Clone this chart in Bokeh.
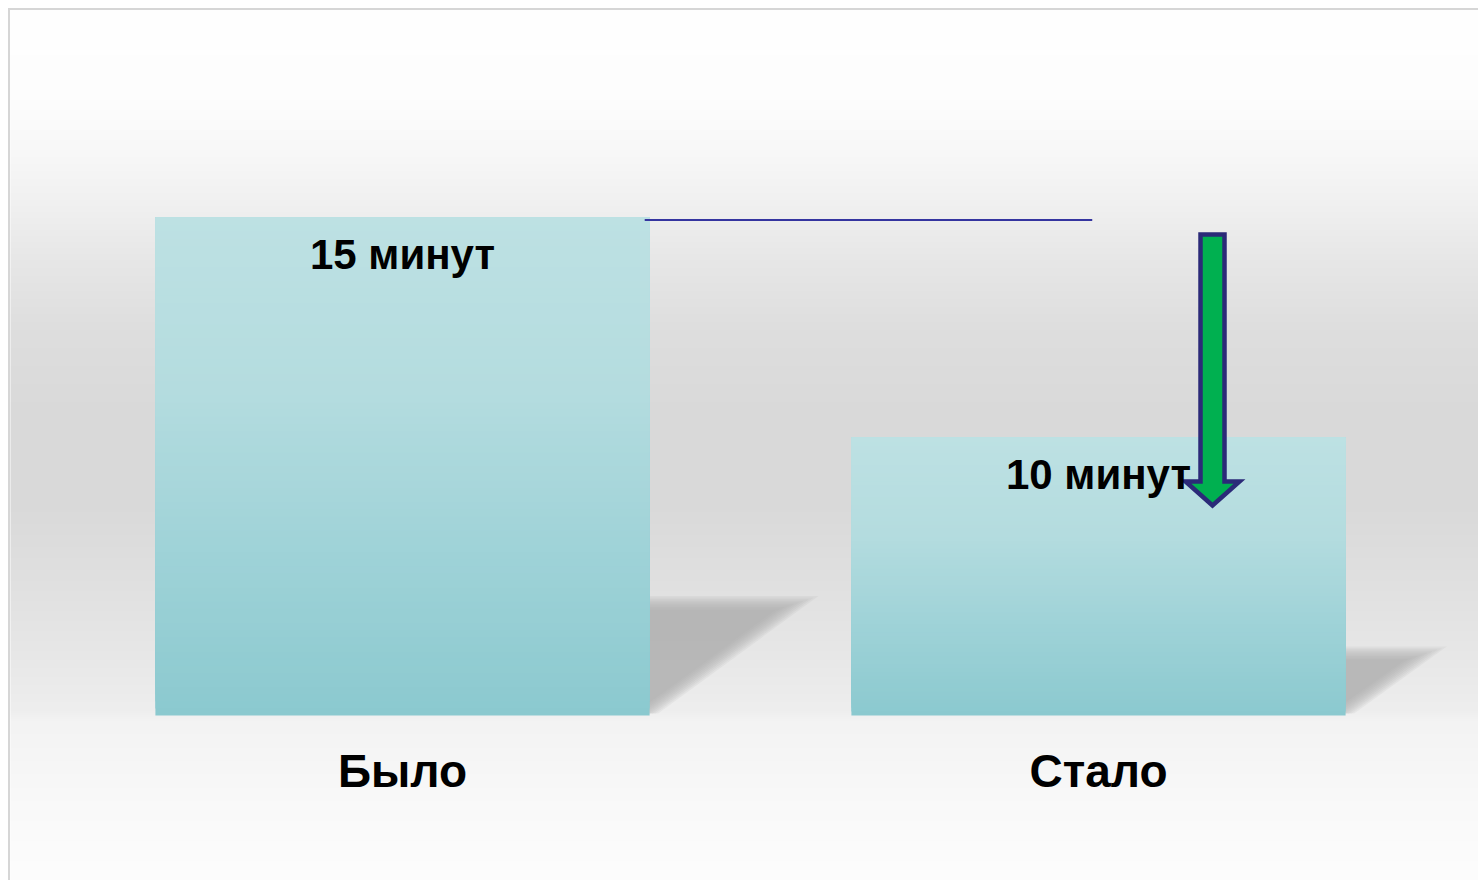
import numpy as np
from bokeh.plotting import figure
from bokeh.models import ColumnDataSource, Range1d
from bokeh.core.properties import value
from bokeh.embed import file_html
from bokeh.resources import INLINE

# ---------------- data ----------------
categories = ["Было", "Стало"]
minutes = [15, 10]
value_labels = ["15 минут", "10 минут"]
x_pos = [0, 1]

# ---------------- layout / style ----------------
BASE = 3.68          # value axis start (bars grow from here)
BAR_W = 0.71
PX_X = 696.0         # px per x unit
PX_Y = 44.0          # px per minute
W, H = 1478, 880
x_start = -402 / PX_X
x_end = x_start + W / PX_X
y_end = max(minutes) + 217 / PX_Y
y_start = y_end - H / PX_Y

FONT = value("Liberation Sans")


def hex2rgb(h):
    return [int(h[i:i + 2], 16) for i in (1, 3, 5)]


def rgb2hex(c):
    return "#%02x%02x%02x" % tuple(int(round(v)) for v in c)


def dx(px):
    return x_start + px / PX_X


def dy(py):
    return y_end - py / PX_Y


p = figure(width=W, height=H, output_backend="svg", toolbar_location=None,
           x_range=Range1d(x_start, x_end), y_range=Range1d(y_start, y_end),
           x_axis_location=None, y_axis_location=None, min_border=0)
p.border_fill_color = "#ffffff"
p.background_fill_color = "#ffffff"
p.outline_line_color = None
p.grid.visible = False

# ---------------- background gradient (panel) ----------------
P0X, P0Y = 10, 10
bg_y = [10, 100, 150, 200, 260, 330, 420, 500, 580, 650, 710, 720, 800, 880]
bg_c = ["#ffffff", "#fdfdfd", "#f8f8f8", "#f1f1f1", "#e7e7e7", "#dedede", "#d9d9d9",
        "#d9d9d9", "#e0e0e0", "#e7e7e7", "#eeeeee", "#f3f3f3", "#f9f9f9", "#fdfdfd"]
bg_rgb = np.array([hex2rgb(c) for c in bg_c], float)
ph = H - P0Y
ys_page = P0Y + (np.arange(ph)[::-1] + 0.5)
ncol = 4
img = np.zeros((ph, ncol), dtype=np.uint32)
view = img.view(dtype=np.uint8).reshape((ph, ncol, 4))
for k in range(3):
    view[:, :, k] = np.interp(ys_page, bg_y, bg_rgb[:, k])[:, None].astype(np.uint8)
view[:, :, 3] = 255
p.image_rgba(image=[img], x=dx(P0X), y=y_start, dw=x_end - dx(P0X), dh=dy(P0Y) - y_start)

# panel border (left and top)
p.quad(left=[dx(7.5), dx(7.5)], right=[dx(9.5), x_end], bottom=[y_start, dy(9.5)], top=[dy(7.5), dy(7.5)],
       fill_color="#d6d6d6", line_color=None)


# ---------------- shadows ----------------
def to_px(pts):
    return np.array([[(x - x_start) * PX_X, (y_end - y) * PX_Y] for x, y in pts])


def to_data(pts):
    return [(x / PX_X + x_start, y_end - y / PX_Y) for x, y in pts]


def offset_poly(pts, ds):
    n = len(pts)
    area = sum(pts[i, 0] * pts[(i + 1) % n, 1] - pts[(i + 1) % n, 0] * pts[i, 1] for i in range(n))
    lines = []
    for i in range(n):
        a, b = pts[i], pts[(i + 1) % n]
        e = (b - a) / np.hypot(*(b - a))
        nrm = np.array([e[1], -e[0]])
        if area < 0:
            nrm = -nrm
        lines.append((a + nrm * ds[i], e))
    out = []
    for i in range(n):
        p1, e1 = lines[i - 1]
        p2, e2 = lines[i]
        A = np.array([[e1[0], -e2[0]], [e1[1], -e2[1]]])
        t = np.linalg.solve(A, p2 - p1)[0]
        out.append(p1 + t * e1)
    return np.array(out)


sh_xs, sh_ys = [], []
for xc, v in zip(x_pos, minutes):
    h = v - BASE
    xr = xc + BAR_W / 2
    sh = 0.23 * h
    L = 0.0195 * h
    poly = [(xr - 0.03, BASE + sh), (xr + L, BASE + sh), (xr, BASE + 0.05), (xr - 0.03, BASE + 0.05)]
    pp = to_px(poly)
    for d in np.linspace(-9, 5, 10):
        op = to_data(offset_poly(pp, [d, d, 0, 0]))
        sh_xs.append([q[0] for q in op])
        sh_ys.append([q[1] for q in op])
p.patches(sh_xs, sh_ys, fill_color="#ababab", fill_alpha=0.13, line_color=None)

# ---------------- bars with vertical gradient ----------------
g_t = [0.0, 0.35, 0.65, 1.0]
g_c = np.array([hex2rgb(c) for c in ["#8bc9cf", "#a0d3d8", "#b4dcdf", "#bde1e3"]], float)
NS = 70
left, right, bottom, top, colors = [], [], [], [], []
for xc, v in zip(x_pos, minutes):
    for i in range(NS):
        t = i / NS
        y0 = BASE + (v - BASE) * t
        col = [np.interp(t + 0.5 / NS, g_t, g_c[:, k]) for k in range(3)]
        left.append(xc - BAR_W / 2)
        right.append(xc + BAR_W / 2)
        bottom.append(y0)
        top.append(v)
        colors.append(rgb2hex(col))
p.quad(left=left, right=right, bottom=bottom, top=top, fill_color=colors, line_color=None)

# ---------------- connector line ----------------
p.segment(x0=[x_pos[0] + 0.348], y0=[minutes[0] - 0.057], x1=[x_pos[1] - 0.009], y1=[minutes[0] - 0.057],
          line_color="#3535a0", line_width=2.2)

# ---------------- green arrow ----------------
cx = x_pos[1] + 0.1638
hw, hhw = 0.01724, 0.0388
a_top = minutes[0] - 0.386
a_hb = minutes[1] - 1.0
a_tip = minutes[1] - 1.545
ax = [cx - hw, cx + hw, cx + hw, cx + hhw, cx, cx - hhw, cx - hw]
ay = [a_top, a_top, a_hb, a_hb, a_tip, a_hb, a_hb]
p.patch(ax, ay, fill_color="#00b050", line_color="#2b2a78", line_width=4.5, line_join="miter")

# ---------------- labels ----------------
src_v = ColumnDataSource(dict(x=x_pos, y=[v - 0.84 for v in minutes], t=value_labels))
p.text(x="x", y="y", text="t", source=src_v, text_align="center", text_baseline="alphabetic",
       text_font=FONT, text_font_size="42px", text_font_style="bold", text_color="#000000")
src_c = ColumnDataSource(dict(x=x_pos, y=[BASE - 1.27] * len(x_pos), t=categories))
p.text(x="x", y="y", text="t", source=src_c, text_align="center", text_baseline="alphabetic",
       text_font=FONT, text_font_size="46px", text_font_style="bold", text_color="#000000")

open("out.html", "w").write(file_html(p, INLINE))
